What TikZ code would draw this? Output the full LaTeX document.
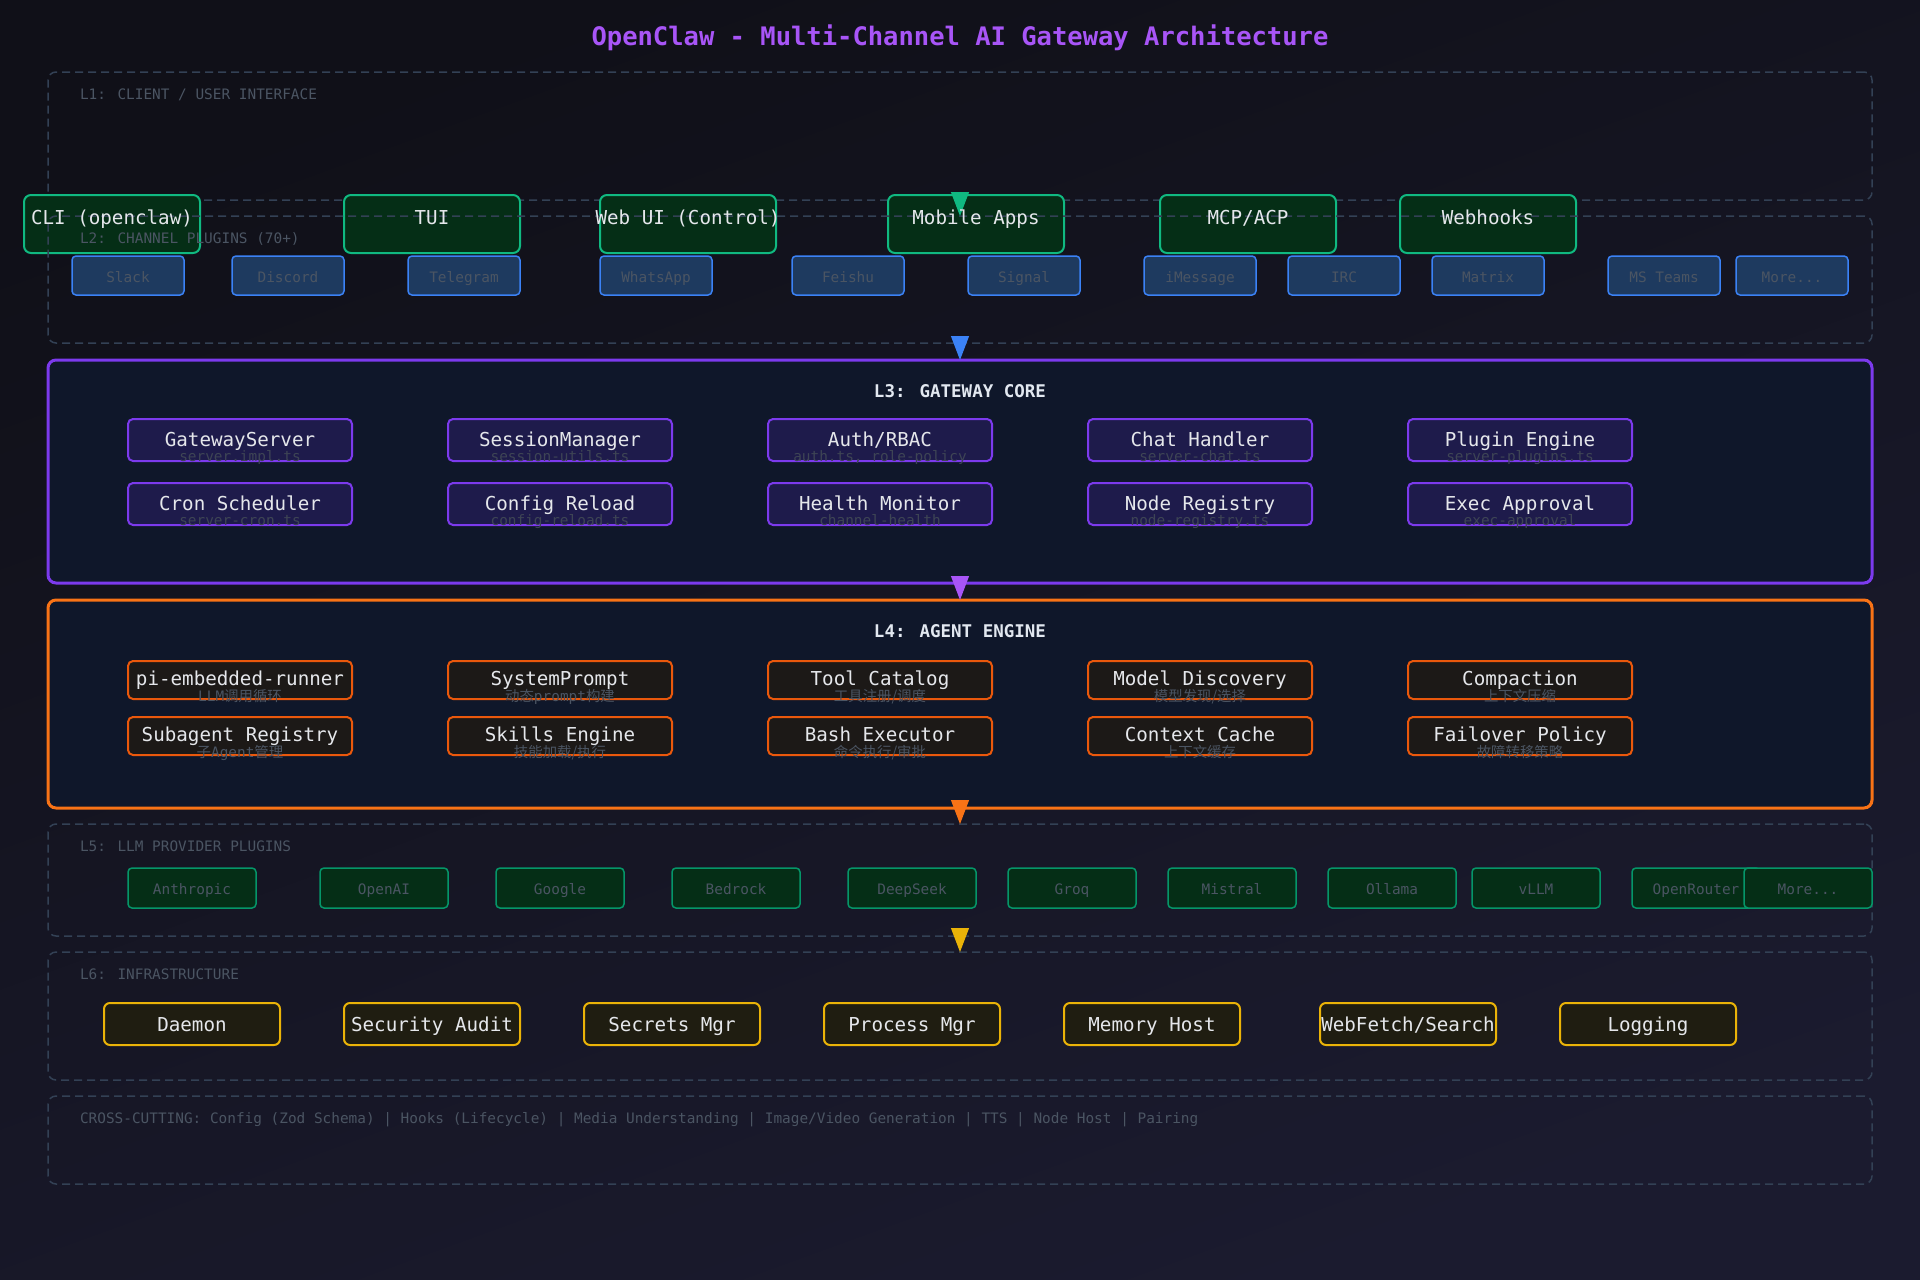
\documentclass[tikz,border=0pt]{standalone}
\usepackage{fontspec}
\newfontfamily\mono{DejaVu Sans Mono}
\newfontfamily\cjk{Noto Sans CJK SC}
\usetikzlibrary{arrows.meta}
\definecolor{bgA}{HTML}{101018}
\definecolor{bgB}{HTML}{1B1B2F}
\definecolor{dashc}{HTML}{334155}
\definecolor{dimtxt}{HTML}{4B5563}
\definecolor{subtxt}{HTML}{3E4555}
\definecolor{maintxt}{HTML}{E5E7EB}
\definecolor{headtxt}{HTML}{E2E8F0}
\definecolor{titlec}{HTML}{A855F7}
\definecolor{grn}{HTML}{10B981}
\definecolor{grnfill}{HTML}{052E16}
\definecolor{grn2}{HTML}{059669}
\definecolor{blu}{HTML}{3B82F6}
\definecolor{blufill}{HTML}{1E3A5F}
\definecolor{purp}{HTML}{7C3AED}
\definecolor{purpfill}{HTML}{1E1B4B}
\definecolor{panel}{HTML}{0F172A}
\definecolor{orng}{HTML}{F97316}
\definecolor{orng2}{HTML}{EA580C}
\definecolor{orngfill}{HTML}{1C1917}
\definecolor{yel}{HTML}{EAB308}
\definecolor{yelfill}{HTML}{1F1D11}
\definecolor{arrp}{HTML}{A855F7}
\begin{document}
\begin{tikzpicture}[x=1pt,y=-1pt,
  box/.style={rectangle,inner sep=0pt,outer sep=0pt},
  layerdash/.style={box,draw=dashc,line width=1.5pt,dash pattern=on 8pt off 5pt,rounded corners=8pt,minimum width=1824pt},
  corebox/.style={box,line width=3pt,fill=panel,rounded corners=8pt,minimum width=1824pt},
  clientbox/.style={box,draw=grn,fill=grnfill,line width=2pt,rounded corners=7pt,minimum width=176pt,minimum height=58pt},
  chanbox/.style={box,draw=blu,fill=blufill,line width=1.5pt,rounded corners=4pt,minimum width=112pt,minimum height=39pt},
  gwbox/.style={box,draw=purp,fill=purpfill,line width=2pt,rounded corners=5pt,minimum width=224pt,minimum height=42pt},
  agbox/.style={box,draw=orng2,fill=orngfill,line width=2pt,rounded corners=5pt,minimum width=224pt,minimum height=38pt},
  provbox/.style={box,draw=grn2,fill=grnfill,line width=1.5pt,rounded corners=4pt,minimum width=128pt,minimum height=40pt},
  infrabox/.style={box,draw=yel,fill=yelfill,line width=2pt,rounded corners=6pt,minimum width=176pt,minimum height=42pt},
  txt/.style={inner sep=0pt,outer sep=0pt,anchor=base},
  titletxt/.style={txt,text=titlec,font={\mono\bfseries\fontsize{25.5}{30}\selectfont}},
  headtext/.style={txt,text=headtxt,font={\mono\bfseries\fontsize{17.5}{21}\selectfont}},
  maintext/.style={txt,text=maintxt,font={\mono\fontsize{19.2}{23}\selectfont}},
  smalltext/.style={txt,text=dimtxt,font={\mono\fontsize{14.4}{17}\selectfont}},
  subtext/.style={txt,text=subtxt,font={\mono\fontsize{14.4}{17}\selectfont}},
  layerlabel/.style={txt,anchor=base west,text=dimtxt,font={\mono\fontsize{14.4}{17}\selectfont}},
  flow/.style={line width=1pt,-{Triangle[width=18pt,length=24pt]}}
]
\shade[top color=bgA,bottom color=bgB,shading angle=20] (0,0) rectangle (1920,1280);
\path[use as bounding box] (0,0) rectangle (1920,1280);

\node[titletxt] (title) at (960,45) {OpenClaw - Multi-Channel AI Gateway Architecture};

% L1
\node[layerdash,minimum height=128pt] (l1) at (960,136) {};
\node[layerlabel] (l1lab) at (80,99) {L1: CLIENT / USER INTERFACE};
\foreach \cx [count=\i] in {112,432,688,976,1248,1488}
  \node[clientbox] (cl\i) at (\cx,224) {};

% L2
\node[layerdash,minimum height=127pt] (l2) at (960,279.5) {};
\node[layerlabel] (l2lab) at (80,243) {L2: CHANNEL PLUGINS (70+)};
\foreach \cx/\t [count=\i] in {128/Slack,288/Discord,464/Telegram,656/WhatsApp,848/Feishu,1024/Signal,1200/iMessage,1344/IRC,1488/Matrix,1664/{MS Teams},1792/{More...}}{
  \node[chanbox] (ch\i) at (\cx,275.5) {};
  \node[smalltext] (cht\i) at (\cx,282) {\t};
}
\draw[flow,grn,fill=grn] (l1.south) -- (l2.north);
\foreach \cx/\t [count=\i] in {112/{CLI (openclaw)},432/TUI,688/{Web UI (Control)},976/{Mobile Apps},1248/{MCP/ACP},1488/Webhooks}
  \node[maintext] (clt\i) at (\cx,224) {\t};

% L3
\node[corebox,draw=purp,minimum height=223pt] (l3) at (960,471.5) {};
\node[headtext] (l3lab) at (960,397) {L3: GATEWAY CORE};
\foreach \cx/\a/\b [count=\i] in {240/GatewayServer/server.impl.ts,560/SessionManager/session-utils.ts,880/{Auth/RBAC}/{auth.ts, role-policy},1200/{Chat Handler}/server-chat.ts,1520/{Plugin Engine}/server-plugins.ts}{
  \node[gwbox] (ga\i) at (\cx,440) {};
  \node[maintext] (gat\i) at (\cx,446) {\a};
  \node[subtext] (gas\i) at (\cx,461.5) {\b};
}
\foreach \cx/\a/\b [count=\i] in {240/{Cron Scheduler}/server-cron.ts,560/{Config Reload}/config-reload.ts,880/{Health Monitor}/channel-health,1200/{Node Registry}/node-registry.ts,1520/{Exec Approval}/exec-approval}{
  \node[gwbox] (gb\i) at (\cx,504) {};
  \node[maintext] (gbt\i) at (\cx,510) {\a};
  \node[subtext] (gbs\i) at (\cx,525.5) {\b};
}
\draw[flow,blu,fill=blu] (l2.south) -- (l3.north);

% L4
\node[corebox,draw=orng,minimum height=208pt] (l4) at (960,704) {};
\node[headtext] (l4lab) at (960,637) {L4: AGENT ENGINE};
\foreach \cx/\a/\b [count=\i] in {240/pi-embedded-runner/{LLM{\cjk 调用循环}},560/SystemPrompt/{{\cjk 动态}prompt{\cjk 构建}},880/{Tool Catalog}/{{\cjk 工具注册/调度}},1200/{Model Discovery}/{{\cjk 模型发现/选择}},1520/Compaction/{{\cjk 上下文压缩}}}{
  \node[agbox] (aa\i) at (\cx,680) {};
  \node[maintext] (aat\i) at (\cx,685.5) {\a};
  \node[smalltext] (aas\i) at (\cx,701.5) {\b};
}
\foreach \cx/\a/\b [count=\i] in {240/{Subagent Registry}/{{\cjk 子}Agent{\cjk 管理}},560/{Skills Engine}/{{\cjk 技能加载/执行}},880/{Bash Executor}/{{\cjk 命令执行/审批}},1200/{Context Cache}/{{\cjk 上下文缓存}},1520/{Failover Policy}/{{\cjk 故障转移策略}}}{
  \node[agbox] (ab\i) at (\cx,736) {};
  \node[maintext] (abt\i) at (\cx,741.5) {\a};
  \node[smalltext] (abs\i) at (\cx,757.5) {\b};
}
\draw[flow,arrp,fill=arrp] (l3.south) -- (l4.north);

% L5
\node[layerdash,minimum height=112pt] (l5) at (960,880) {};
\node[layerlabel] (l5lab) at (80,851) {L5: LLM PROVIDER PLUGINS};
\foreach \cx/\t [count=\i] in {192/Anthropic,384/OpenAI,560/Google,736/Bedrock,912/DeepSeek,1072/Groq,1232/Mistral,1392/Ollama,1536/vLLM,1696/OpenRouter,1808/{More...}}{
  \node[provbox] (pv\i) at (\cx,888) {};
  \node[smalltext] (pvt\i) at (\cx,894) {\t};
}
\draw[flow,orng,fill=orng] (l4.south) -- (l5.north);

% L6
\node[layerdash,minimum height=128pt] (l6) at (960,1016) {};
\node[layerlabel] (l6lab) at (80,979) {L6: INFRASTRUCTURE};
\foreach \cx/\t [count=\i] in {192/Daemon,432/{Security Audit},672/{Secrets Mgr},912/{Process Mgr},1152/{Memory Host},1408/{WebFetch/Search},1648/Logging}{
  \node[infrabox] (in\i) at (\cx,1024) {};
  \node[maintext] (int\i) at (\cx,1031) {\t};
}
\draw[flow,yel,fill=yel] (l5.south) -- (l6.north);

% Cross-cutting
\node[layerdash,minimum height=88pt] (cc) at (960,1140) {};
\node[layerlabel] (cclab) at (80,1123) {CROSS-CUTTING: Config (Zod Schema) | Hooks (Lifecycle) | Media Understanding | Image/Video Generation | TTS | Node Host | Pairing};
\end{tikzpicture}
\end{document}
